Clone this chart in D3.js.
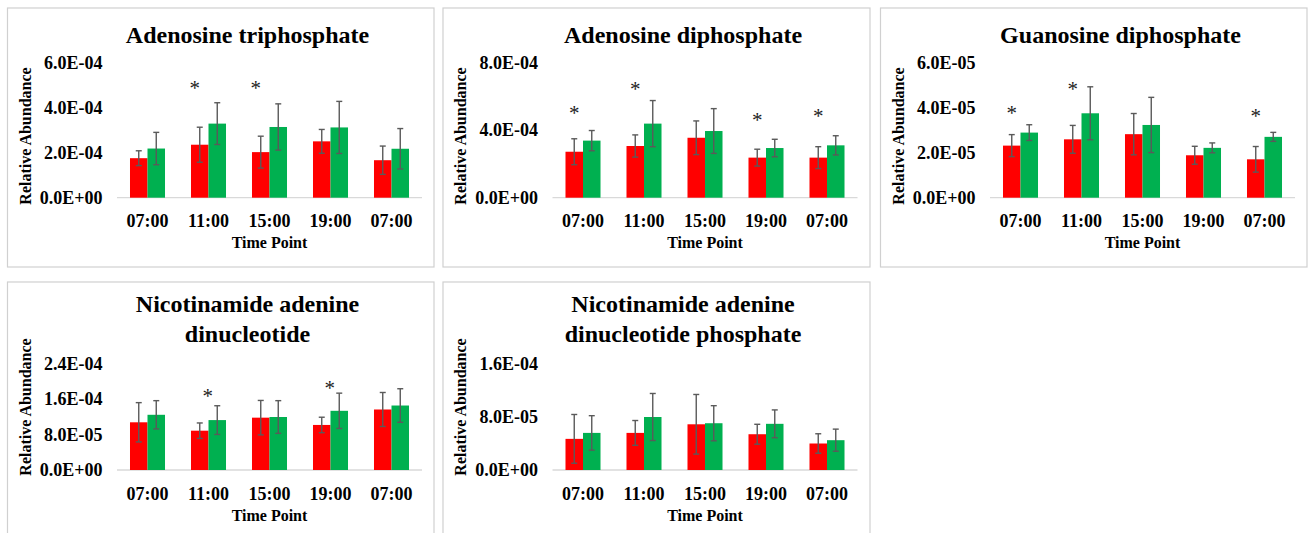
<!DOCTYPE html>
<html>
<head>
<meta charset="utf-8">
<script src="https://cdn.jsdelivr.net/npm/d3@7"></script>
<style>
    body { margin: 0; background: #fff; }
    svg text { font-family: "Liberation Serif", "Times New Roman", serif; font-weight: bold; fill: #000; }
</style>
</head>
<body>
<svg id="chart" width="1310" height="533"></svg>
<script>
// categories shared by every panel
const timeLabels = ["07:00", "11:00", "15:00", "19:00", "07:00"];

// Adenosine triphosphate
const atpRed = [1.76e-4, 2.36e-4, 2.03e-4, 2.51e-4, 1.67e-4];
const atpRedErr = [0.33e-4, 0.78e-4, 0.71e-4, 0.53e-4, 0.63e-4];
const atpGreen = [2.19e-4, 3.30e-4, 3.15e-4, 3.13e-4, 2.18e-4];
const atpGreenErr = [0.72e-4, 0.93e-4, 1.03e-4, 1.16e-4, 0.90e-4];
const atpStars = [[1, 5.0e-4], [2, 5.0e-4]];
const atpTicks = [0, 2e-4, 4e-4, 6e-4];

// Adenosine diphosphate
const adpRed = [2.73e-4, 3.07e-4, 3.56e-4, 2.38e-4, 2.38e-4];
const adpRedErr = [0.77e-4, 0.66e-4, 1.00e-4, 0.50e-4, 0.65e-4];
const adpGreen = [3.39e-4, 4.40e-4, 3.96e-4, 2.95e-4, 3.11e-4];
const adpGreenErr = [0.60e-4, 1.37e-4, 1.33e-4, 0.52e-4, 0.57e-4];
const adpStars = [[0, 5.2e-4], [1, 6.63e-4], [3, 4.81e-4], [4, 5.01e-4]];
const adpTicks = [0, 4e-4, 8e-4];

// Guanosine diphosphate
const gdpRed = [2.32e-5, 2.60e-5, 2.83e-5, 1.89e-5, 1.71e-5];
const gdpRedErr = [0.49e-5, 0.62e-5, 0.92e-5, 0.40e-5, 0.57e-5];
const gdpGreen = [2.90e-5, 3.76e-5, 3.24e-5, 2.22e-5, 2.71e-5];
const gdpGreenErr = [0.35e-5, 1.18e-5, 1.23e-5, 0.22e-5, 0.20e-5];
const gdpStars = [[0, 3.91e-5], [1, 4.99e-5], [4, 3.76e-5]];
const gdpTicks = [0, 2e-5, 4e-5, 6e-5];

// Nicotinamide adenine dinucleotide
const nadRed = [10.8e-5, 8.9e-5, 11.85e-5, 10.2e-5, 13.7e-5];
const nadRedErr = [4.45e-5, 1.75e-5, 3.9e-5, 1.75e-5, 3.85e-5];
const nadGreen = [12.5e-5, 11.3e-5, 12.0e-5, 13.4e-5, 14.6e-5];
const nadGreenErr = [3.2e-5, 3.25e-5, 3.7e-5, 4.0e-5, 3.8e-5];
const nadStars = [[1, 17.4e-5], [3, 19.2e-5]];
const nadTicks = [0, 8e-5, 1.6e-4, 2.4e-4];

// Nicotinamide adenine dinucleotide phosphate
const nadpRed = [4.7e-5, 5.6e-5, 6.9e-5, 5.4e-5, 4.0e-5];
const nadpRedErr = [3.68e-5, 1.87e-5, 4.5e-5, 1.5e-5, 1.47e-5];
const nadpGreen = [5.6e-5, 8.0e-5, 7.06e-5, 6.97e-5, 4.5e-5];
const nadpGreenErr = [2.6e-5, 3.55e-5, 2.65e-5, 2.1e-5, 1.67e-5];
const nadpStars = [];
const nadpTicks = [0, 8e-5, 1.6e-4];

const RED = "#ff0000", GREEN = "#00b050";

// panel boxes and inner layout (relative to the box)
const rowTop = {titleY: [34.7], top: 55, zero: 189.7, labelY: 128, h: 259};
const rowBottom = {titleY: [29.7, 59.7], top: 82, zero: 188, labelY: 125, h: 300};

const panels = [
    {title: ["Adenosine triphosphate"], x: 7.5, y: 8, w: 426.5, row: rowTop,
        red: atpRed, redErr: atpRedErr, green: atpGreen, greenErr: atpGreenErr, stars: atpStars, ticks: atpTicks, starShift: -5},
    {title: ["Adenosine diphosphate"], x: 443, y: 8, w: 427, row: rowTop,
        red: adpRed, redErr: adpRedErr, green: adpGreen, greenErr: adpGreenErr, stars: adpStars, ticks: adpTicks, starShift: 0},
    {title: ["Guanosine diphosphate"], x: 880.5, y: 8, w: 426.5, row: rowTop,
        red: gdpRed, redErr: gdpRedErr, green: gdpGreen, greenErr: gdpGreenErr, stars: gdpStars, ticks: gdpTicks, starShift: 0},
    {title: ["Nicotinamide adenine", "dinucleotide"], x: 7.5, y: 282, w: 426.5, row: rowBottom,
        red: nadRed, redErr: nadRedErr, green: nadGreen, greenErr: nadGreenErr, stars: nadStars, ticks: nadTicks, starShift: 8},
    {title: ["Nicotinamide adenine", "dinucleotide phosphate"], x: 443, y: 282, w: 427, row: rowBottom,
        red: nadpRed, redErr: nadpRedErr, green: nadpGreen, greenErr: nadpGreenErr, stars: nadpStars, ticks: nadpTicks, starShift: 0}
];

// Excel style "0.0E+00"
function sci(v) {
    if (v === 0) return "0.0E+00";
    let e = Math.floor(Math.log10(v) + 1e-9);
    let m = (v / Math.pow(10, e)).toFixed(1);
    return m + "E" + (e < 0 ? "-" : "+") + String(Math.abs(e)).padStart(2, "0");
}

const svg = d3.select("#chart");

panels.forEach(drawPanel);

function drawPanel(p) {
    const g = svg.append("g").attr("transform", "translate(" + p.x + "," + p.y + ")");
    const row = p.row;

    g.append("rect")
        .attr("x", 0).attr("y", 0)
        .attr("width", p.w).attr("height", row.h)
        .attr("fill", "#fff")
        .attr("stroke", "#d0d0d0")
        .attr("stroke-width", 1.2);

    const plotLeft = 109.5, plotWidth = 305;

    const x = d3.scaleBand()
        .domain(d3.range(timeLabels.length))
        .range([plotLeft, plotLeft + plotWidth])
        .paddingInner(0.426)
        .paddingOuter(0.213);

    const xs = d3.scaleBand()
        .domain(["red", "green"])
        .range([0, x.bandwidth()]);

    const y = d3.scaleLinear()
        .domain([0, d3.max(p.ticks)])
        .range([row.zero, row.top]);

    // title
    g.append("text")
        .attr("text-anchor", "middle")
        .style("font-size", "24px")
        .selectAll("tspan")
        .data(p.title)
        .enter()
        .append("tspan")
        .attr("x", 240)
        .attr("y", (d, i) => row.titleY[i])
        .text(d => d);

    // y tick labels (no axis line)
    g.selectAll("text.ytick")
        .data(p.ticks)
        .enter()
        .append("text")
        .attr("class", "ytick")
        .attr("x", 95)
        .attr("y", d => y(d) + 6)
        .attr("text-anchor", "end")
        .style("font-size", "18px")
        .text(sci);

    // baseline
    g.append("line")
        .attr("x1", plotLeft).attr("x2", plotLeft + plotWidth)
        .attr("y1", y(0)).attr("y2", y(0))
        .attr("stroke", "#d9d9d9")
        .attr("stroke-width", 1.3);

    // x axis labels
    const xAxis = d3.axisBottom(x)
        .tickSize(0)
        .tickPadding(0)
        .tickFormat(i => timeLabels[i]);
    const ax = g.append("g")
        .attr("transform", "translate(0," + y(0) + ")")
        .call(xAxis);
    ax.select(".domain").remove();
    ax.selectAll("text")
        .attr("dy", null)
        .attr("y", 29.5)
        .style("font-family", null)
        .style("font-size", "18px")
        .attr("fill", "#000");

    g.append("text")
        .attr("x", plotLeft + plotWidth / 2)
        .attr("y", y(0) + 50.5)
        .attr("text-anchor", "middle")
        .style("font-size", "16px")
        .text("Time Point");

    g.append("text")
        .attr("transform", "translate(23," + row.labelY + ") rotate(-90)")
        .attr("text-anchor", "middle")
        .style("font-size", "16px")
        .text("Relative Abundance");

    // bars
    const rows = timeLabels.map((t, i) => ({i: i, vals: [
        {key: "red", v: p.red[i], e: p.redErr[i], c: RED},
        {key: "green", v: p.green[i], e: p.greenErr[i], c: GREEN}
    ]}));

    const grp = g.selectAll("g.grp")
        .data(rows)
        .enter()
        .append("g")
        .attr("class", "grp")
        .attr("transform", d => "translate(" + x(d.i) + ",0)");

    grp.selectAll("rect")
        .data(d => d.vals)
        .enter()
        .append("rect")
        .attr("x", d => xs(d.key))
        .attr("width", xs.bandwidth())
        .attr("y", d => y(d.v))
        .attr("height", d => y(0) - y(d.v))
        .attr("fill", d => d.c);

    // error bars
    const eb = grp.selectAll("g.err")
        .data(d => d.vals)
        .enter()
        .append("g")
        .attr("class", "err")
        .attr("stroke", "#5a5a5a")
        .attr("stroke-width", 1.4)
        .attr("transform", d => "translate(" + (xs(d.key) + xs.bandwidth() / 2) + ",0)");
    eb.append("line")
        .attr("y1", d => y(d.v + d.e)).attr("y2", d => y(d.v - d.e));
    eb.append("line")
        .attr("x1", -3).attr("x2", 3)
        .attr("y1", d => y(d.v + d.e)).attr("y2", d => y(d.v + d.e));
    eb.append("line")
        .attr("x1", -3).attr("x2", 3)
        .attr("y1", d => y(d.v - d.e)).attr("y2", d => y(d.v - d.e));

    // significance stars
    g.selectAll("text.star")
        .data(p.stars)
        .enter()
        .append("text")
        .attr("class", "star")
        .attr("x", d => x(d[0]) + xs("red") + xs.bandwidth() / 2 + p.starShift)
        .attr("y", d => y(d[1]) + 10)
        .attr("text-anchor", "middle")
        .style("font-size", "21px")
        .style("font-weight", "normal")
        .style("fill", "#222")
        .text("*");
}
</script>
</body>
</html>
